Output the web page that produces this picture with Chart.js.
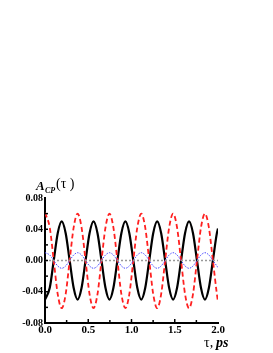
<!DOCTYPE html>
<html>
<head>
<meta charset="utf-8">
<script src="https://cdn.jsdelivr.net/npm/chart.js@4.4.1/dist/chart.umd.min.js"></script>
<style>
    html, body { margin: 0; padding: 0; background: #fff; }
    #wrap { position: relative; width: 273px; height: 353px; }
</style>
</head>
<body>
<div id="wrap"><canvas id="grafico" width="273" height="353"></canvas></div>
<script>
// tiempos (ps)
const tiempos = [0, 0.055, 0.101, 0.147, 0.193, 0.239, 0.285, 0.331, 0.377, 0.423, 0.469, 0.515,
    0.561, 0.607, 0.653, 0.699, 0.745, 0.791, 0.837, 0.883, 0.929, 0.975, 1.021, 1.067,
    1.113, 1.159, 1.205, 1.251, 1.297, 1.343, 1.389, 1.435, 1.481, 1.527, 1.573, 1.619,
    1.665, 1.711, 1.757, 1.803, 1.849, 1.895, 1.941, 1.987, 2.0];

// curva negra (solida)
const serieNegra = [-0.050, -0.035, 0, 0.035, 0.050, 0.035, 0, -0.035, -0.050, -0.035, 0, 0.035,
    0.050, 0.035, 0, -0.035, -0.050, -0.035, 0, 0.035, 0.050, 0.035, 0, -0.035,
    -0.050, -0.035, 0, 0.035, 0.050, 0.035, 0, -0.035, -0.050, -0.035, 0, 0.035,
    0.050, 0.035, 0, -0.035, -0.050, -0.035, 0, 0.035, 0.041];

// curva roja (discontinua)
const serieRoja = [0.061, 0.042, 0, -0.043, -0.061, -0.043, 0, 0.042, 0.060, 0.042, 0, -0.043,
    -0.061, -0.043, 0, 0.042, 0.060, 0.042, 0, -0.043, -0.061, -0.043, 0, 0.042,
    0.060, 0.042, 0, -0.043, -0.061, -0.043, 0, 0.042, 0.060, 0.042, 0, -0.043,
    -0.061, -0.043, 0, 0.042, 0.060, 0.042, 0, -0.043, -0.053];

// curva azul (punteada)
const serieAzul = [0.010, 0.007, 0, -0.007, -0.010, -0.007, 0, 0.007, 0.010, 0.007, 0, -0.007,
    -0.010, -0.007, 0, 0.007, 0.010, 0.007, 0, -0.007, -0.010, -0.007, 0, 0.007,
    0.010, 0.007, 0, -0.007, -0.010, -0.007, 0, 0.007, 0.010, 0.007, 0, -0.007,
    -0.010, -0.007, 0, 0.007, 0.010, 0.007, 0, -0.007, -0.009];

const lineaCero = [0, 0];
const limitesCero = [0, 2.0];

const ticksX = [0.0, 0.5, 1.0, 1.5, 2.0];
const ticksY = [-0.08, -0.04, 0.00, 0.04, 0.08];

const puntos = (xs, ys) => xs.map((x, i) => ({ x: x, y: ys[i] }));

// marcas hacia adentro y textos de los ejes
const decorado = {
    id: 'decorado',
    afterDraw(chart) {
        const ctx = chart.ctx;
        const sx = chart.scales.x, sy = chart.scales.y;
        const a = chart.chartArea;
        ctx.save();
        ctx.strokeStyle = '#000';
        ctx.lineWidth = 1.5;
        for (let v = 0.25; v < 2.0; v += 0.25) {
            const px = sx.getPixelForValue(v);
            const largo = (Math.round(v * 4) % 2 === 0) ? 4 : 3;
            ctx.beginPath(); ctx.moveTo(px, a.bottom); ctx.lineTo(px, a.bottom - largo); ctx.stroke();
        }
        for (let v = -0.06; v < 0.08; v += 0.02) {
            const py = sy.getPixelForValue(v);
            ctx.beginPath(); ctx.moveTo(a.left, py); ctx.lineTo(a.left + 3, py); ctx.stroke();
        }
        ctx.fillStyle = '#000';
        ctx.textBaseline = 'alphabetic';
        // titulo del eje y
        ctx.font = 'italic bold 13px "Liberation Serif"';
        ctx.fillText('A', 36, 190);
        ctx.font = 'italic bold 8px "Liberation Serif"';
        ctx.fillText('CP', 45, 193);
        ctx.font = '14px "Liberation Serif"';
        ctx.fillText('(\u03c4 )', 56, 188);
        // titulo del eje x
        ctx.font = '14px "Liberation Serif"';
        ctx.fillText('\u03c4,', 204, 347);
        ctx.font = 'italic bold 14px "Liberation Serif"';
        ctx.fillText('ps', 216, 347);
        ctx.restore();
    }
};

new Chart(document.getElementById('grafico'), {
    type: 'line',
    data: {
        datasets: [
            { data: puntos(limitesCero, lineaCero), borderColor: '#999', borderWidth: 1.5, borderDash: [2, 2], pointRadius: 0 },
            { data: puntos(tiempos, serieAzul), borderColor: '#4a4aff', borderWidth: 1, borderDash: [1.5, 1.2], pointRadius: 0, cubicInterpolationMode: 'monotone' },
            { data: puntos(tiempos, serieRoja), borderColor: '#ff2020', borderWidth: 1.8, borderDash: [5, 3], pointRadius: 0, cubicInterpolationMode: 'monotone' },
            { data: puntos(tiempos, serieNegra), borderColor: '#000', borderWidth: 2.2, pointRadius: 0, cubicInterpolationMode: 'monotone' }
        ]
    },
    options: {
        responsive: false,
        animation: false,
        layout: { padding: { left: 0, top: 198, right: 55, bottom: 10 } },
        plugins: { legend: { display: false }, tooltip: { enabled: false } },
        scales: {
            x: {
                type: 'linear', min: 0, max: 2.0,
                afterBuildTicks: s => { s.ticks = ticksX.map(v => ({ value: v })); },
                afterFit: s => { s.height = 20; },
                grid: { display: false, drawTicks: false },
                border: { color: '#000', width: 2 },
                ticks: { color: '#000', padding: 1, maxRotation: 0, font: { family: 'Liberation Serif', weight: 'bold', size: 11 }, callback: v => v.toFixed(1) }
            },
            y: {
                type: 'linear', min: -0.08, max: 0.08,
                afterBuildTicks: s => { s.ticks = ticksY.map(v => ({ value: v })); },
                afterFit: s => { s.width = 45; },
                grid: { display: false, drawTicks: false },
                border: { color: '#000', width: 2 },
                ticks: { color: '#000', padding: 2, font: { family: 'Liberation Serif', weight: 'bold', size: 10 }, callback: v => v.toFixed(2) }
            }
        }
    },
    plugins: [decorado]
});
</script>
</body>
</html>
